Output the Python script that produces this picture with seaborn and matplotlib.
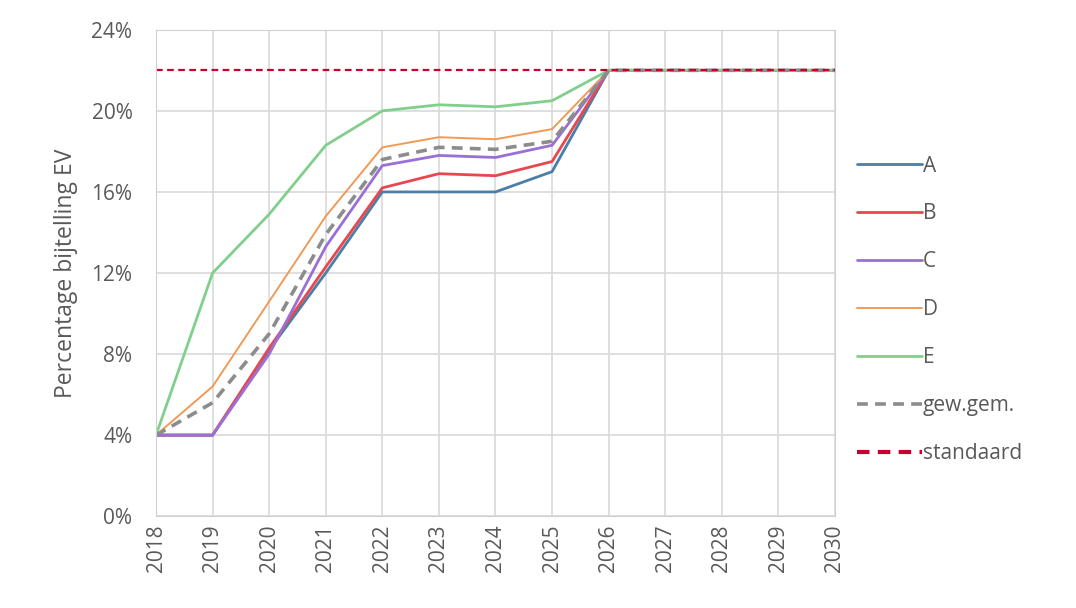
import pandas as pd
import numpy as np
import seaborn as sns
import matplotlib.pyplot as plt

jaren = list(range(2018, 2031))
A = [4.0, 4.0, 8.2, 12.0, 16.0, 16.0, 16.0, 17.0, 22, 22, 22, 22, 22]
B = [4.0, 4.0, 8.3, 12.3, 16.2, 16.9, 16.8, 17.5, 22, 22, 22, 22, 22]
C = [4.0, 4.0, 8.0, 13.3, 17.3, 17.8, 17.7, 18.3, 22, 22, 22, 22, 22]
D = [4.0, 6.4, 10.6, 14.8, 18.2, 18.7, 18.6, 19.1, 22, 22, 22, 22, 22]
E = [4.0, 12.0, 14.9, 18.3, 20.0, 20.3, 20.2, 20.5, 22, 22, 22, 22, 22]
gew_gem = [4.0, 5.6, 9.0, 13.9, 17.6, 18.2, 18.1, 18.5, 22, 22, 22, 22, 22]
standaard = [22] * len(jaren)

series = {
    'A': A, 'B': B, 'C': C, 'D': D, 'E': E,
    'gew.gem.': gew_gem, 'standaard': standaard,
}
kleuren = {
    'A': '#4a7fa8', 'B': '#e8474f', 'C': '#9a6fd6', 'D': '#f29a55',
    'E': '#80d08c', 'gew.gem.': '#8c8c8c', 'standaard': '#c8002e',
}
stijl = {
    'A': ('-', 2.0), 'B': ('-', 2.0), 'C': ('-', 2.0), 'D': ('-', 1.4),
    'E': ('-', 2.0), 'gew.gem.': ((0, (3, 2)), 2.6), 'standaard': ((0, (3, 2)), 1.6),
}

df = pd.DataFrame([(naam, j, v) for naam, vals in series.items() for j, v in zip(jaren, vals)],
                  columns=['scenario', 'jaar', 'waarde'])

sns.set_style('whitegrid')
plt.rcParams['font.family'] = ['Open Sans', 'DejaVu Sans']

fig = plt.figure(figsize=(10.76, 6.08), dpi=100)
ax = fig.add_axes([0.145, 0.151, 0.631, 0.8])

for naam in series:
    ls, lw = stijl[naam]
    sns.lineplot(data=df[df['scenario'] == naam], x='jaar', y='waarde', ax=ax,
                 color=kleuren[naam], linestyle=ls, linewidth=lw, label=naam)

ax.set_xlim(2018, 2030)
ax.set_ylim(0, 24)
ax.set_xticks(jaren)
ax.set_xticklabels([str(j) for j in jaren], rotation=90)
ax.set_yticks(range(0, 25, 4))
ax.set_yticklabels([f'{v}%' for v in range(0, 25, 4)])
ax.grid(True, color='#d9d9d9', linewidth=1.2)
for s in ax.spines.values():
    s.set_color('#d0d0d0')
ax.tick_params(axis='both', colors='#595959', labelsize=15, length=0)
ax.tick_params(axis='x', pad=6)
ax.tick_params(axis='y', pad=17)
ax.set_xlabel('')
ax.set_ylabel('Percentage bijtelling EV', color='#595959', fontsize=16.5, labelpad=10)

leg = ax.legend(loc='upper left', bbox_to_anchor=(1.005, 0.78), frameon=False, fontsize=15,
                handlelength=3.1, handletextpad=0.05, labelspacing=1.29, labelcolor='#595959')
# standaard in de legenda dikker, zoals in het origineel
leg.get_lines()[-1].set_linewidth(3)

fig.savefig('out.png', dpi=100, facecolor='white')
